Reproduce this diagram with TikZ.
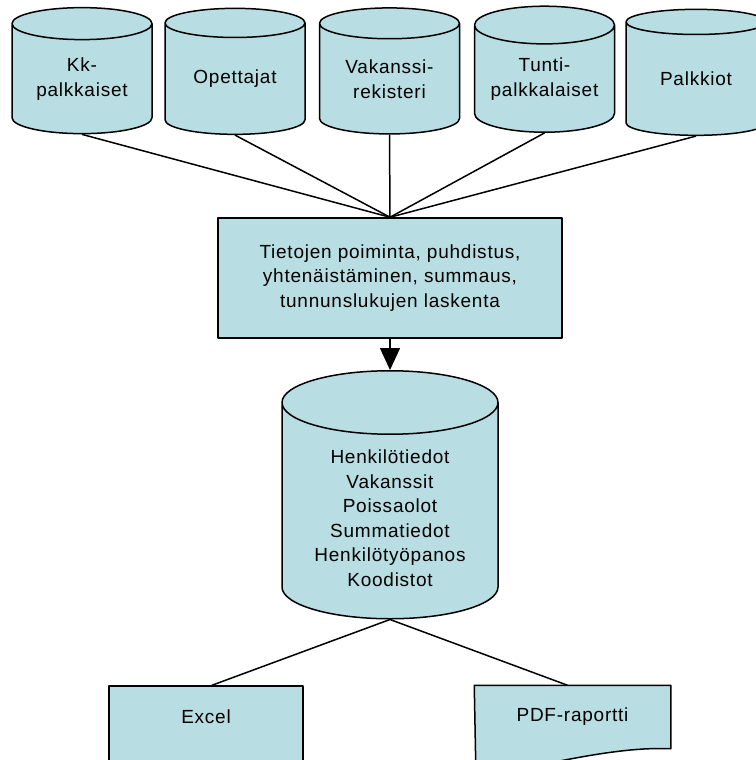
\documentclass[tikz,border=0pt]{standalone}
\usepackage{fontspec}
\setmainfont{Liberation Sans}[LetterSpace=4]
\usetikzlibrary{shapes.geometric,arrows.meta}
\definecolor{dbfill}{RGB}{184,221,226}
\begin{document}
\begin{tikzpicture}[x=1pt,y=-1pt,line join=round,line width=1.5pt,
  font=\fontsize{19}{24.5}\selectfont,
  db/.style={cylinder,shape border rotate=90,draw,fill=dbfill,inner sep=0pt,align=center},
  box/.style={rectangle,draw,fill=dbfill,inner sep=0pt,align=center}]
\useasboundingbox (0,0) rectangle (755,760);
% lahteet
\foreach \n/\x/\t in {kk/82/{Kk-\\palkkaiset}, ope/235/Opettajat, vak/389.5/{Vakanssi-\\rekisteri},
  tun/544.5/{Tunti-\\palkkalaiset}, pal/696/Palkkiot}
  \node[db,minimum width=140pt,minimum height=126pt,shape aspect=0.35] (\n) at (\x,79) {\t};
\node[box,minimum width=344pt,minimum height=120pt] (etl) at (390,278)
  {Tietojen poiminta, puhdistus,\\yhtenäistäminen, summaus,\\tunnunslukujen laskenta};
\node[db,minimum width=216pt,minimum height=248pt,shape aspect=0.42] (dw) at (390,511)
  {\rule{0pt}{28pt}Henkilötiedot\\Vakanssit\\Poissaolot\\Summatiedot\\Henkilötyöpanos\\Koodistot};
% raportit
\node[box,minimum width=194pt,minimum height=90pt,text depth=28pt] (xls) at (206,731) {Excel};
\node[inner sep=0pt,minimum width=195pt,minimum height=62pt] (pdf) at (572.5,717) {};
\draw[fill=dbfill] (pdf.south east) .. controls +(-40,-2) and +(40,-8) .. ++(-130,16)
  .. controls +(-30,6) and +(15,-4) .. ++(-65,0) -- (pdf.north west) -- (pdf.north east) -- cycle;
\node at (pdf) {PDF-raportti};
\foreach \n in {kk,ope,vak,tun,pal}
  \draw (\n.south) -- (etl.north);
\draw[-{Triangle[width=20pt,length=22pt]}] (etl.south) -- (dw.north);
\draw (dw.south) -- ([xshift=6pt]xls.north) (dw.south) -- ([xshift=-5pt]pdf.north);
\end{tikzpicture}
\end{document}
